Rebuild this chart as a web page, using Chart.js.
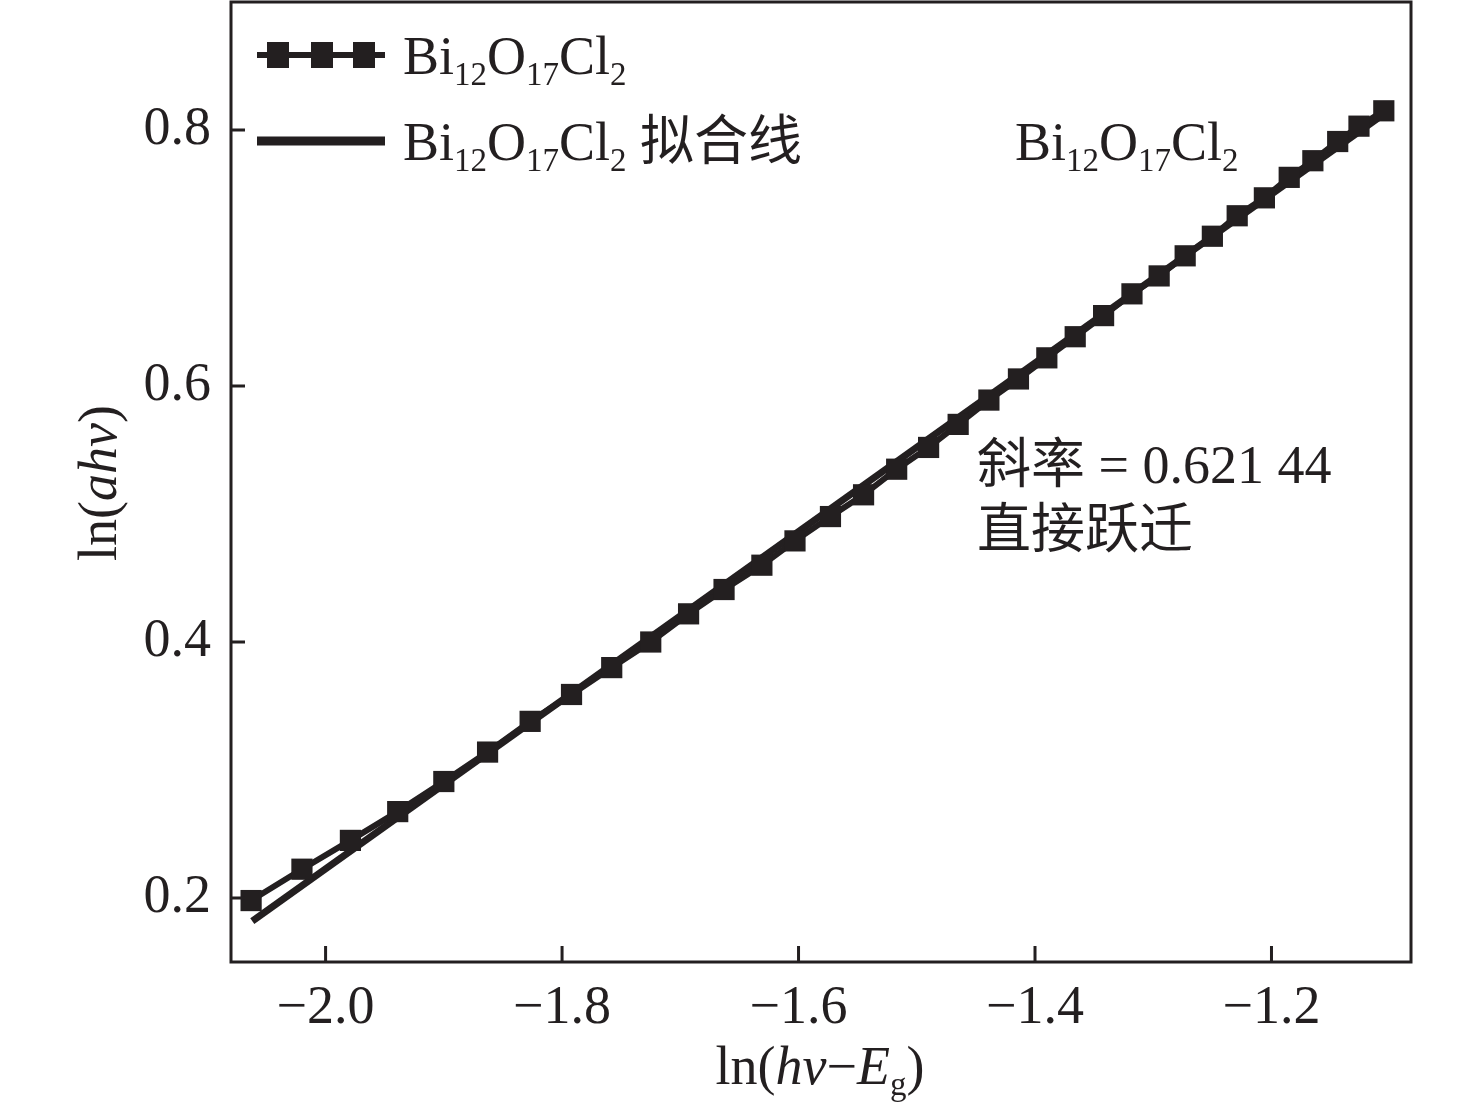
<!DOCTYPE html>
<html>
<head>
<meta charset="utf-8">
<script src="https://cdn.jsdelivr.net/npm/chart.js@4.4.1/dist/chart.umd.min.js"></script>
<style>
  html, body { margin: 0; padding: 0; background: #fff; }
  #wrap { width: 1476px; height: 1104px; position: relative; }
</style>
</head>
<body>
<div id="wrap"><canvas id="myChart"></canvas></div>
<script>
// số liệu
var lnHv = [-2.063, -2.020, -1.979, -1.939, -1.900, -1.863, -1.827, -1.792, -1.758, -1.725,
            -1.693, -1.663, -1.631, -1.603, -1.573, -1.545, -1.517, -1.490, -1.465, -1.439,
            -1.414, -1.390, -1.366, -1.342, -1.318, -1.295, -1.273, -1.250, -1.229, -1.206,
            -1.185, -1.165, -1.144, -1.126, -1.105];
var lnAhv = [0.198, 0.2225, 0.245, 0.2675, 0.291, 0.314, 0.338, 0.359, 0.380, 0.400,
             0.422, 0.441, 0.460, 0.479, 0.498, 0.515, 0.535, 0.552, 0.570, 0.589,
             0.6055, 0.622, 0.6385, 0.655, 0.672, 0.686, 0.7017, 0.717, 0.733, 0.747,
             0.763, 0.776, 0.791, 0.803, 0.815];
var fitX = [-2.062, -1.098];
var fitY = [0.182, 0.817];
var xTicks = [-2.0, -1.8, -1.6, -1.4, -1.2];
var yTicks = [0.2, 0.4, 0.6, 0.8];

var black = '#231f20';
var serif = "'Liberation Serif', 'Times New Roman', serif";
var cjk = "'Noto Sans CJK SC', sans-serif";

function toPts(xs, ys) {
    return xs.map(function (x, i) { return { x: x, y: ys[i] }; });
}

// chữ có chỉ số dưới: [{t, sub, it, cn}]
function partFont(p, size) {
    var s = p.sub ? Math.round(size * 0.62) : size;
    return (p.it ? 'italic ' : '') + s + 'px ' + (p.cn ? cjk : serif);
}
function richWidth(ctx, parts, size) {
    var w = 0;
    parts.forEach(function (p) { ctx.font = partFont(p, size); w += ctx.measureText(p.t).width; });
    return w;
}
function drawRich(ctx, parts, x, y, size, align) {
    var w = richWidth(ctx, parts, size);
    var cx = align === 'center' ? x - w / 2 : x;
    ctx.textAlign = 'left';
    ctx.textBaseline = 'alphabetic';
    parts.forEach(function (p) {
        ctx.font = partFont(p, size);
        ctx.fillText(p.t, cx, y + (p.sub ? size * 0.2 : 0));
        cx += ctx.measureText(p.t).width;
    });
}

var formula = [{t: 'Bi'}, {t: '12', sub: true}, {t: 'O'}, {t: '17', sub: true}, {t: 'Cl'}, {t: '2', sub: true}];

var decorPlugin = {
    id: 'decor',
    afterDraw: function (chart) {
        var ctx = chart.ctx;
        var a = chart.chartArea;
        var xs = chart.scales.x, ys = chart.scales.y;
        ctx.save();
        ctx.strokeStyle = black;
        ctx.fillStyle = black;
        ctx.lineWidth = 3;
        ctx.strokeRect(a.left, a.top, a.right - a.left, a.bottom - a.top);

        // vạch chia hướng vào trong
        ctx.beginPath();
        xTicks.forEach(function (v) {
            var px = xs.getPixelForValue(v);
            ctx.moveTo(px, a.bottom);
            ctx.lineTo(px, a.bottom - 16);
        });
        yTicks.forEach(function (v) {
            var py = ys.getPixelForValue(v);
            ctx.moveTo(a.left, py);
            ctx.lineTo(a.left + 14, py);
        });
        ctx.stroke();

        // chú thích
        var lx0 = 257, lx1 = 385;
        ctx.lineWidth = 6;
        ctx.beginPath();
        ctx.moveTo(lx0, 55); ctx.lineTo(lx1, 55);
        ctx.stroke();
        [278, 322, 364].forEach(function (mx) { ctx.fillRect(mx - 11, 55 - 13, 22, 26); });
        ctx.lineWidth = 9;
        ctx.beginPath();
        ctx.moveTo(lx0, 141); ctx.lineTo(lx1, 141);
        ctx.stroke();
        drawRich(ctx, formula, 403, 74, 54, 'left');
        drawRich(ctx, formula.concat([{t: ' '}, {t: '拟合线', cn: true}]), 403, 160, 54, 'left');

        // ghi chú trong vùng vẽ
        drawRich(ctx, formula, 1015, 160, 54, 'left');
        drawRich(ctx, [{t: '斜率', cn: true}, {t: ' = 0.621 44'}], 977, 483, 54, 'left');
        drawRich(ctx, [{t: '直接跃迁', cn: true}], 977, 548, 54, 'left');

        // tiêu đề trục
        drawRich(ctx, [{t: 'ln('}, {t: 'hv', it: true}, {t: '−'}, {t: 'E', it: true}, {t: 'g', sub: true}, {t: ')'}],
                 820, 1084, 54, 'center');
        ctx.translate(116, 483);
        ctx.rotate(-Math.PI / 2);
        drawRich(ctx, [{t: 'ln('}, {t: 'ahv', it: true}, {t: ')'}], 0, 0, 54, 'center');
        ctx.restore();
    }
};

var chart = new Chart('myChart', {
    type: 'scatter',
    data: {
        datasets: [{
            label: 'Bi12O17Cl2',
            data: toPts(lnHv, lnAhv),
            showLine: true,
            borderColor: black,
            backgroundColor: black,
            borderWidth: 6,
            pointStyle: 'rect',
            pointRadius: 15,
            pointBorderWidth: 0
        }, {
            label: 'Bi12O17Cl2 拟合线',
            data: toPts(fitX, fitY),
            showLine: true,
            borderColor: black,
            borderWidth: 7,
            pointRadius: 0
        }]
    },
    options: {
        responsive: true,
        maintainAspectRatio: false,
        animation: false,
        layout: { autoPadding: false, padding: { top: 2, right: 65, left: 0, bottom: 0 } },
        plugins: { legend: { display: false }, tooltip: { enabled: false } },
        scales: {
            x: {
                type: 'linear',
                min: -2.08,
                max: -1.082,
                grid: { display: false, drawTicks: false },
                border: { display: false },
                afterBuildTicks: function (s) { s.ticks = xTicks.map(function (v) { return { value: v }; }); },
                afterFit: function (s) { s.height = 142; s.paddingLeft = 0; s.paddingRight = 0; },
                ticks: {
                    padding: 14,
                    color: black,
                    font: { family: serif, size: 54 },
                    callback: function (v) { return (v < 0 ? '−' : '') + Math.abs(v).toFixed(1); }
                }
            },
            y: {
                type: 'linear',
                min: 0.15,
                max: 0.9,
                grid: { display: false, drawTicks: false },
                border: { display: false },
                afterBuildTicks: function (s) { s.ticks = yTicks.map(function (v) { return { value: v }; }); },
                afterFit: function (s) { s.width = 231; s.paddingTop = 0; s.paddingBottom = 0; },
                ticks: {
                    padding: 20,
                    color: black,
                    font: { family: serif, size: 54 },
                    callback: function (v) { return v.toFixed(1); }
                }
            }
        }
    },
    plugins: [decorPlugin]
});
</script>
</body>
</html>
